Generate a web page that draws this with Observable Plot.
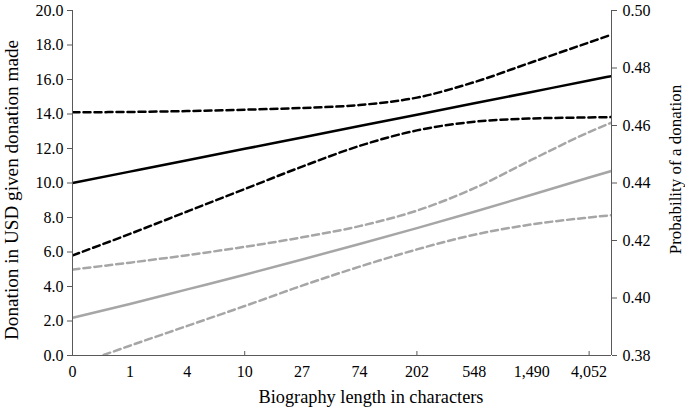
<!DOCTYPE html>
<html>
<head>
<meta charset="utf-8">
<script src="https://cdn.jsdelivr.net/npm/d3@7"></script>
<script src="https://cdn.jsdelivr.net/npm/@observablehq/plot@0.6"></script>
<style>
  html, body { margin: 0; padding: 0; background: #fff; }
  #chart svg { display: block; }
</style>
</head>
<body>
<div id="chart"></div>
<script>
// Category tick labels (biography length, log spaced)
const xLabels = ["0", "1", "4", "10", "27", "74", "202", "548", "1,490", "4,052"];
// Positions along the log-length axis where curves were read (last = right end)
const xs = [0, 1, 2, 3, 4, 5, 6, 7, 8, 9, 9.39];

// Donation in USD given donation made (left axis)
const donationFit   = [10.0, 10.66, 11.32, 11.98, 12.64, 13.30, 13.96, 14.62, 15.28, 15.94, 16.2];
const donationUpper = [14.1, 14.12, 14.17, 14.25, 14.35, 14.52, 14.95, 15.85, 17.0, 18.15, 18.6];
const donationLower = [5.8, 7.05, 8.35, 9.65, 10.95, 12.15, 13.05, 13.55, 13.74, 13.8, 13.82];

// Probability of a donation (right axis)
const probFit   = [0.3931, 0.3979, 0.4030, 0.4081, 0.4134, 0.4188, 0.4243, 0.4300, 0.4359, 0.4419, 0.4442];
const probUpper = [0.4099, 0.4123, 0.4149, 0.4178, 0.4211, 0.4250, 0.4304, 0.4382, 0.4481, 0.4577, 0.4610];
const probLower = [0.3763, 0.3834, 0.3903, 0.3972, 0.4043, 0.4109, 0.4169, 0.4220, 0.4256, 0.4280, 0.4288];

const leftTicks = [0, 2, 4, 6, 8, 10, 12, 14, 16, 18, 20];
const rightTicks = [0.38, 0.40, 0.42, 0.44, 0.46, 0.48, 0.50];
const leftDomain = [0, 20];
const rightDomain = [0.38, 0.50];

const toLeft = p => (p - rightDomain[0]) / (rightDomain[1] - rightDomain[0]) * (leftDomain[1] - leftDomain[0]) + leftDomain[0];
const fromLeft = v => (v - leftDomain[0]) / (leftDomain[1] - leftDomain[0]) * (rightDomain[1] - rightDomain[0]) + rightDomain[0];

const series = (vals, conv) => xs.map((x, i) => ({x, y: conv ? toLeft(vals[i]) : vals[i]}));

const font = "'Liberation Serif', 'Times New Roman', serif";
const axisColor = "#595959";
const gray = "#a6a6a6";

const chart = Plot.plot({
  width: 685,
  height: 412,
  marginLeft: 72,
  marginRight: 74,
  marginTop: 10,
  marginBottom: 57,
  style: {fontFamily: font, fontSize: "16px", color: "#000", background: "#fff"},
  x: {domain: [0, xs[xs.length - 1]], axis: null},
  y: {domain: leftDomain, axis: null},
  marks: [
    // gray: probability (right axis)
    Plot.line(series(probLower, true), {x: "x", y: "y", stroke: gray, strokeWidth: 2.5, strokeDasharray: "7,4", curve: "monotone-x", clip: true}),
    Plot.line(series(probUpper, true), {x: "x", y: "y", stroke: gray, strokeWidth: 2.5, strokeDasharray: "7,4", curve: "monotone-x", clip: true}),
    Plot.line(series(probFit, true), {x: "x", y: "y", stroke: gray, strokeWidth: 2.5, curve: "monotone-x", clip: true}),
    // black: donation amount (left axis)
    Plot.line(series(donationLower), {x: "x", y: "y", stroke: "#000", strokeWidth: 2.5, strokeDasharray: "7,4", curve: "monotone-x", clip: true}),
    Plot.line(series(donationUpper), {x: "x", y: "y", stroke: "#000", strokeWidth: 2.5, strokeDasharray: "7,4", curve: "monotone-x", clip: true}),
    Plot.line(series(donationFit), {x: "x", y: "y", stroke: "#000", strokeWidth: 2.5, curve: "monotone-x", clip: true}),
    // axis lines
    Plot.ruleX([0], {stroke: axisColor, strokeWidth: 1}),
    Plot.ruleX([xs[xs.length - 1]], {stroke: axisColor, strokeWidth: 1}),
    Plot.ruleY([0], {stroke: axisColor, strokeWidth: 1}),
    // left axis
    Plot.axisY({anchor: "left", ticks: leftTicks, tickFormat: d => d.toFixed(1), tickSize: 5, tickPadding: 4, stroke: axisColor, fontSize: 16, label: null}),
    // right axis (probability)
    Plot.axisY({anchor: "right", ticks: rightTicks.map(toLeft), tickFormat: v => fromLeft(v).toFixed(2), tickSize: 5, tickPadding: 6, stroke: axisColor, fontSize: 16, label: null}),
    // x axis labels
    Plot.axisX({ticks: d3.range(xLabels.length), tickFormat: i => xLabels[i], tickSize: 0, tickPadding: 10, fontSize: 16, label: null}),
    // inner x tick marks every third category
    Plot.axisX({ticks: [3, 6, 9], tickFormat: () => "", tickSize: 4, dy: -4, stroke: axisColor, label: null}),
    // axis titles
    Plot.text(["Donation in USD given donation made"], {frameAnchor: "left", textAnchor: "middle", dx: -61, dy: 7, rotate: -90, fontSize: 19.2, fill: "#000"}),
    Plot.text(["Probability of a donation"], {frameAnchor: "right", textAnchor: "middle", dx: 64, dy: -13.5, rotate: -90, fontSize: 17, fill: "#000"}),
    Plot.text(["Biography length in characters"], {frameAnchor: "bottom", dx: 29, dy: 47, fontSize: 18.3, fill: "#000"})
  ]
});

document.getElementById("chart").appendChild(chart);
</script>
</body>
</html>
